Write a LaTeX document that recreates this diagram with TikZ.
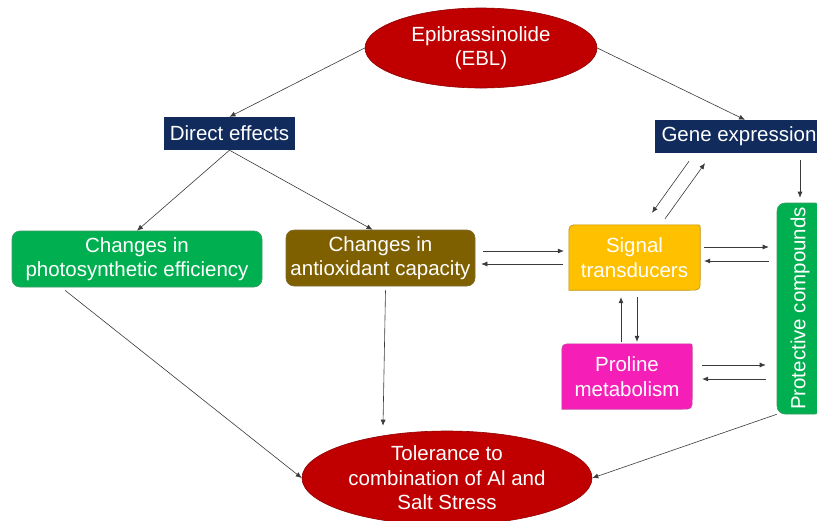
\documentclass[tikz,border=0pt]{standalone}
\usepackage{fontspec}
\setmainfont{Liberation Sans}
\usetikzlibrary{shapes.geometric,arrows.meta,calc,backgrounds}
\definecolor{ebred}{HTML}{C00000}
\definecolor{navy}{HTML}{102B5C}
\definecolor{grn}{HTML}{00B050}
\definecolor{brn}{HTML}{7F6000}
\definecolor{yel}{HTML}{FFC000}
\definecolor{mag}{HTML}{F51FB8}
\definecolor{arrowc}{HTML}{3A3A3A}
\begin{document}
\begin{tikzpicture}[x=1pt,y=-1pt,
  lbl/.style={text=white, align=center, font=\fontsize{20.5}{24.5}\selectfont, inner sep=0pt},
  oval/.style={lbl, ellipse, inner xsep=0pt, inner ysep=-4pt, fill=ebred, draw=ebred!75!black, line width=0.6pt},
  navybox/.style={lbl, rectangle, fill=navy},
  rbox/.style={lbl, rectangle, rounded corners=8pt, line width=0.6pt},
  arr/.style={draw=arrowc, line width=0.6pt, -{Latex[length=6pt,width=5pt]}}]
\useasboundingbox (0,0) rectangle (817,520);
\clip (0,0) rectangle (817,520);

% nodes
\node[oval, minimum width=232pt, minimum height=80pt] (ebl) at (481,48) {Epibrassinolide\\(EBL)};
\node[navybox, minimum width=131pt, minimum height=33pt] (direct) at (229.5,133.5) {Direct effects};
\node[navybox, minimum width=168pt, minimum height=33pt] (gene) at (739,136.5) {Gene expression};
\node[rbox, fill=grn, draw=grn!55!gray, minimum width=250pt, minimum height=56pt] (photo) at (137,259) {Changes in\\photosynthetic efficiency};
\node[rbox, fill=brn, draw=brn!60!gray, minimum width=189pt, minimum height=56pt] (anti) at (380.5,258) {Changes in\\antioxidant capacity};
\node[lbl, minimum width=131pt, minimum height=65pt] (sig) at (634.5,257.5) {Signal\\transducers};
\node[lbl, minimum width=130pt, minimum height=65pt] (prol) at (627,376.5) {Proline\\metabolism};
\node[rbox, fill=grn, draw=grn!55!gray, rotate=90, minimum width=211pt, minimum height=46pt] (prot) at (800,308.5) {Protective compounds};
\node[oval, minimum width=290pt, minimum height=94pt] (tol) at (447,478) {Tolerance to\\combination of Al and\\Salt Stress};

\begin{scope}[on background layer]
\fill[white] (0,0) rectangle (817,520);
\filldraw[fill=yel, draw=yel!75!black, line width=0.6pt]
  ($(sig.north west)+(0,11)$) .. controls (sig.north west) .. ($(sig.north west)+(11,0)$)
  -- ($(sig.north east)+(-3,0)$) .. controls (sig.north east) .. ($(sig.north east)+(0,3)$)
  -- ($(sig.south east)+(0,-11)$) .. controls (sig.south east) .. ($(sig.south east)+(-11,0)$)
  -- (sig.south west) -- cycle;
\filldraw[fill=mag, draw=mag!60!gray, line width=0.6pt]
  ($(prol.north west)+(0,11)$) .. controls (prol.north west) .. ($(prol.north west)+(11,0)$)
  -- ($(prol.north east)+(-3,0)$) .. controls (prol.north east) .. ($(prol.north east)+(0,3)$)
  -- ($(prol.south east)+(0,-11)$) .. controls (prol.south east) .. ($(prol.south east)+(-11,0)$)
  -- (prol.south west) -- cycle;
\end{scope}

% connectors
\draw[arr] (ebl.west) -- (direct.north);
\draw[arr] (ebl.east) -- ([xshift=6pt]gene.north);
\draw[arr] (direct.south) -- (photo.north);
\draw[arr] (direct.south) -- ([xshift=-8pt]anti.north);

\draw[arr, shorten <=8pt, shorten >=5pt] (anti.east |- 0,251) -- (sig.west |- 0,251);
\draw[arr, shorten <=6pt, shorten >=6pt] (sig.west |- 0,264) -- (anti.east |- 0,264);

\draw[arr, shorten <=4pt, shorten >=8pt] (sig.east |- 0,247) -- (prot.north |- 0,247);
\draw[arr, shorten <=8pt, shorten >=4pt] (prot.north |- 0,261) -- (sig.east |- 0,261);

\draw[arr, shorten <=10pt, shorten >=11pt] (prol.east |- 0,365) -- (prot.north |- 0,365);
\draw[arr, shorten <=11pt, shorten >=10pt] (prot.north |- 0,379) -- (prol.east |- 0,379);

\draw[arr] ([xshift=-6pt,yshift=2pt]prol.north) -- ([xshift=-13.5pt,yshift=-7pt]sig.south);
\draw[arr] ([xshift=2.5pt,yshift=-7pt]sig.south) -- ([xshift=10pt,yshift=2pt]prol.north);

\draw[arr] ([xshift=-50pt,yshift=-8pt]gene.south) -- ([xshift=17.5pt,yshift=12pt]sig.north);
\draw[arr] ([xshift=30.5pt,yshift=6pt]sig.north) -- ([xshift=-34pt,yshift=-10pt]gene.south);

\draw[arr, shorten <=7pt, shorten >=5pt] (gene.south -| prot.center) -- (prot.east);

\draw[arr] ([xshift=-72pt,yshift=-3pt]photo.south) -- (tol.west);
\draw[arr] ([xshift=5pt,yshift=-4pt]anti.south) -- ([xshift=-64pt,yshift=5pt]tol.north);
\draw[arr] (prot.north west) -- (tol.east);
\end{tikzpicture}
\end{document}
